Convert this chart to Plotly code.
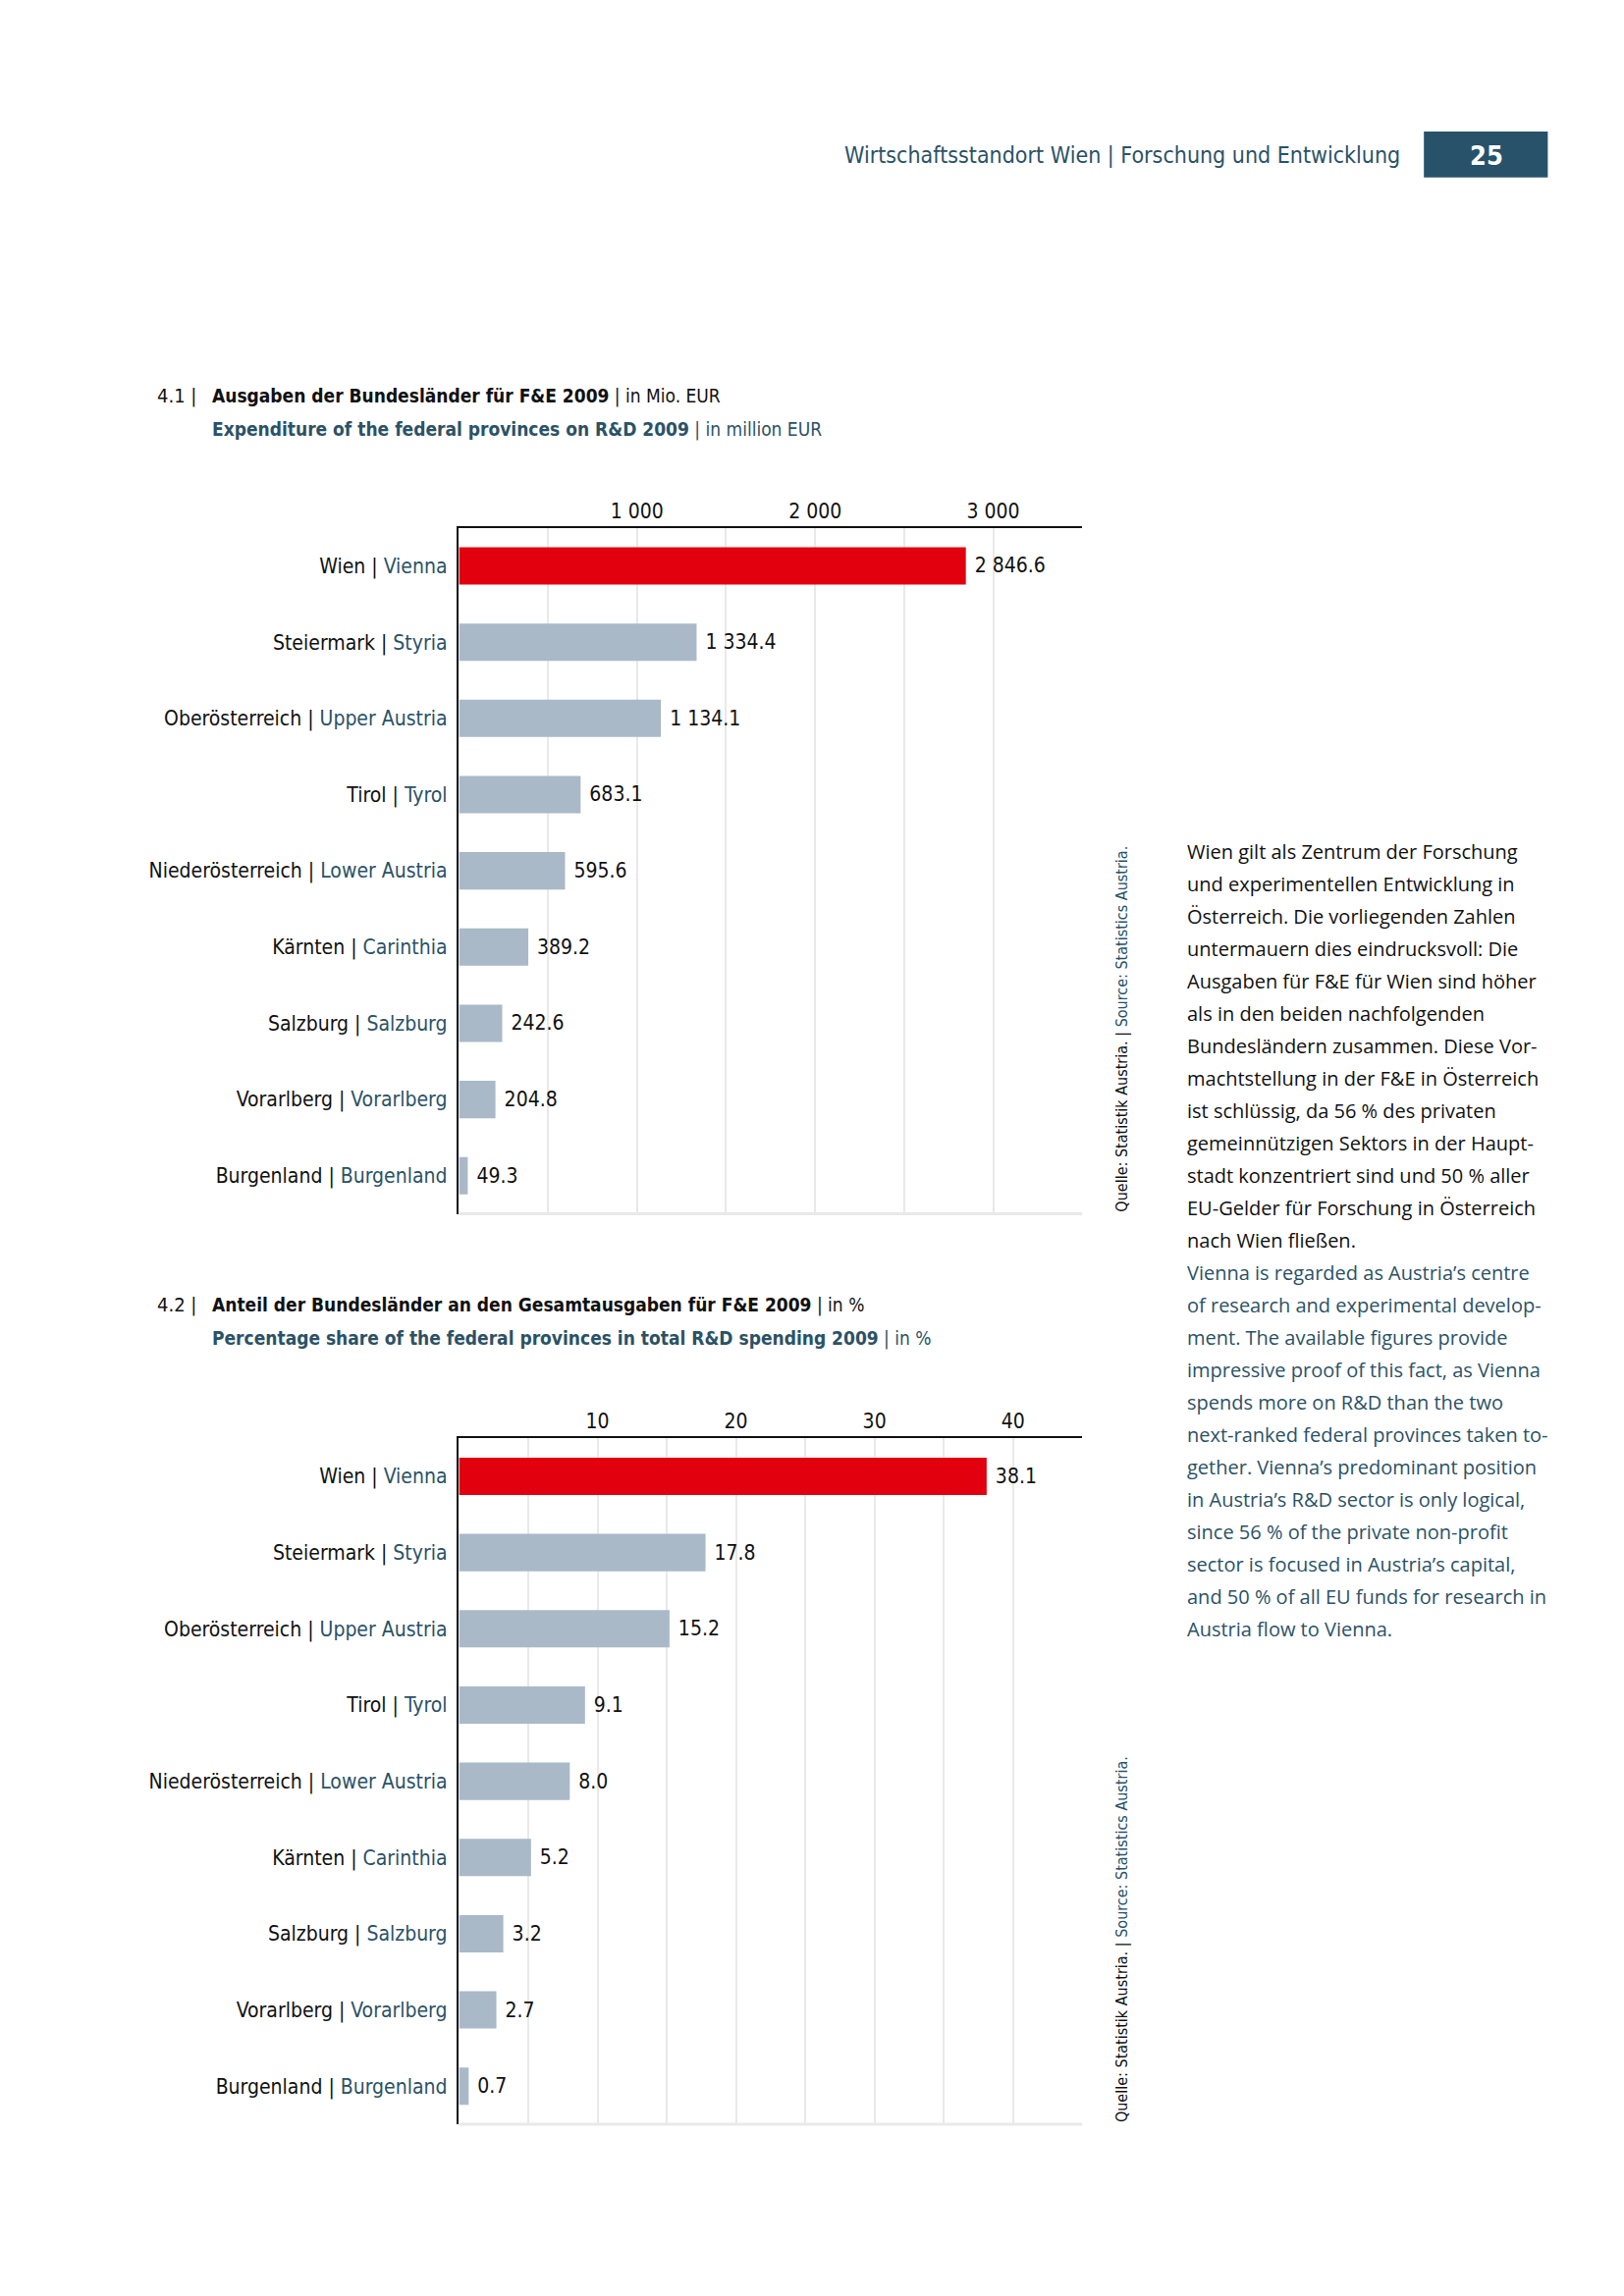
import plotly.graph_objects as go

W, H = 1654, 2339

# ---------------- data ----------------
regions_de = ["Wien", "Steiermark", "Oberösterreich", "Tirol", "Niederösterreich",
              "Kärnten", "Salzburg", "Vorarlberg", "Burgenland"]
regions_en = ["Vienna", "Styria", "Upper Austria", "Tyrol", "Lower Austria",
              "Carinthia", "Salzburg", "Vorarlberg", "Burgenland"]
spend_mio = [2846.6, 1334.4, 1134.1, 683.1, 595.6, 389.2, 242.6, 204.8, 49.3]
share_pct = [38.1, 17.8, 15.2, 9.1, 8.0, 5.2, 3.2, 2.7, 0.7]
grid1 = [0, 500, 1000, 1500, 2000, 2500, 3000, 3500]
grid1_text = ["", "", "1 000", "", "2 000", "", "3 000", ""]
grid2 = [0, 5, 10, 15, 20, 25, 30, 35, 40, 45]
grid2_text = ["", "", "10", "", "20", "", "30", "", "40", ""]

TEAL = "#2b5266"
RED = "#e2000f"
GREY = "#a9b9c8"
GRID = "#e9e9e9"
FONT_C = "Liberation Sans Narrow, DejaVu Sans Condensed, Roboto Condensed, Roboto, sans-serif"
FONT_B = "Open Sans, Noto Sans, sans-serif"

S = 1.4935  # reference display -> page pixel factor


def px(x):
    return x * S / W


def py(y):
    return 1 - y * S / H


cats = [f"{d} | <span style='color:{TEAL}'>{e}</span>" for d, e in zip(regions_de, regions_en)]
colors = [RED] + [GREY] * (len(regions_de) - 1)

lab1 = ["\u00a0" + f"{v:,.1f}".replace(",", " ") for v in spend_mio]
lab2 = ["\u00a0" + f"{v:.1f}" for v in share_pct]

fig = go.Figure()
fig.add_trace(go.Bar(x=spend_mio, y=cats, orientation="h", marker_color=colors,
                     marker_line_width=0, text=lab1, textposition="outside",
                     cliponaxis=False, textfont=dict(family=FONT_C, size=21, color="#111"),
                     xaxis="x", yaxis="y", hoverinfo="skip"))
fig.add_trace(go.Bar(x=share_pct, y=cats, orientation="h", marker_color=colors,
                     marker_line_width=0, text=lab2, textposition="outside",
                     cliponaxis=False, textfont=dict(family=FONT_C, size=21, color="#111"),
                     xaxis="x2", yaxis="y2", hoverinfo="skip"))

# plot areas in reference display units
L, R = 313, 738
T1, B1 = 360, 828
T2, B2 = 981, 1449

common_x = dict(side="top", showgrid=True, gridcolor=GRID, gridwidth=1.5,
                showline=True, linecolor="#111", linewidth=1.5, zeroline=False,
                ticks="", tickfont=dict(family=FONT_C, size=21, color="#111"),
                ticklabelstandoff=0, fixedrange=True)
common_y = dict(autorange="reversed", showline=True, linecolor="#111", linewidth=1.5,
                ticks="", ticklabelstandoff=6, fixedrange=True,
                tickfont=dict(family=FONT_C, size=21, color="#111"), showgrid=False)

fig.update_layout(
    width=W, height=H, margin=dict(l=0, r=0, t=0, b=0),
    paper_bgcolor="white", plot_bgcolor="white", showlegend=False,
    bargap=0.51,
    xaxis=dict(domain=[px(L), px(R)], range=[0, 3500],
               tickvals=grid1, ticktext=grid1_text, anchor="y", **common_x),
    yaxis=dict(domain=[py(B1), py(T1)], anchor="x", **common_y),
    xaxis2=dict(domain=[px(L), px(R)], range=[0, 45],
                tickvals=grid2, ticktext=grid2_text, anchor="y2", **common_x),
    yaxis2=dict(domain=[py(B2), py(T2)], anchor="x2", **common_y),
)

shapes = []
for yr, xr in (("y domain", "x domain"), ("y2 domain", "x2 domain")):
    shapes.append(dict(type="line", xref=xr, yref=yr, x0=0, x1=1, y0=0, y1=0,
                       line=dict(color=GRID, width=3)))
# page number box
shapes.append(dict(type="rect", xref="paper", yref="paper", x0=px(971), x1=px(1055.5),
                   y0=py(121), y1=py(89.7), fillcolor="#27526a", line_width=0))
fig.update_layout(shapes=shapes)

ann = []
# header
ann.append(dict(x=px(956), y=py(106), xref="paper", yref="paper", xanchor="right",
                yanchor="middle", showarrow=False,
                text="Wirtschaftsstandort Wien | Forschung und Entwicklung",
                font=dict(family=FONT_C, size=23, color=TEAL)))
ann.append(dict(x=px(1013.5), y=py(106), xref="paper", yref="paper", xanchor="center",
                yanchor="middle", showarrow=False, text="<b>25</b>",
                font=dict(family=FONT_C, size=27, color="white")))

# chart titles
for num, y1, t1, t2 in (
        ("4.1 |", 270, "<b>Ausgaben der Bundesländer für F&E 2009</b> | in Mio. EUR",
         "<b>Expenditure of the federal provinces on R&D 2009</b> | in million EUR"),
        ("4.2 |", 890, "<b>Anteil der Bundesländer an den Gesamtausgaben für F&E 2009</b> | in %",
         "<b>Percentage share of the federal provinces in total R&D spending 2009</b> | in %")):
    ann.append(dict(x=px(106), y=py(y1), xref="paper", yref="paper", xanchor="left",
                    yanchor="middle", showarrow=False, text=num,
                    font=dict(family=FONT_C, size=20, color="#111")))
    ann.append(dict(x=px(143), y=py(y1), xref="paper", yref="paper", xanchor="left",
                    yanchor="middle", showarrow=False, text=t1,
                    font=dict(family=FONT_C, size=19, color="#111")))
    ann.append(dict(x=px(143), y=py(y1 + 23), xref="paper", yref="paper", xanchor="left",
                    yanchor="middle", showarrow=False, text=t2,
                    font=dict(family=FONT_C, size=19, color=TEAL)))

# source notes (vertical)
src = f"Quelle: Statistik Austria. | <span style='color:{TEAL}'>Source: Statistics Austria.</span>"
for yb in (B1, B2):
    ann.append(dict(x=px(765), y=py(yb), xref="paper", yref="paper", xanchor="center",
                    yanchor="bottom", showarrow=False, textangle=-90, text=src,
                    font=dict(family=FONT_C, size=16, color="#111")))

# body text
de_lines = [
    "Wien gilt als Zentrum der Forschung",
    "und experimentellen Entwicklung in",
    "Österreich. Die vorliegenden Zahlen",
    "untermauern dies eindrucksvoll: Die",
    "Ausgaben für F&E für Wien sind höher",
    "als in den beiden nachfolgenden",
    "Bundesländern zusammen. Diese Vor-",
    "machtstellung in der F&E in Österreich",
    "ist schlüssig, da 56 % des privaten",
    "gemeinnützigen Sektors in der Haupt-",
    "stadt konzentriert sind und 50 % aller",
    "EU-Gelder für Forschung in Österreich",
    "nach Wien fließen.",
]
en_lines = [
    "Vienna is regarded as Austria’s centre",
    "of research and experimental develop-",
    "ment. The available figures provide",
    "impressive proof of this fact, as Vienna",
    "spends more on R&D than the two",
    "next-ranked federal provinces taken to-",
    "gether. Vienna’s predominant position",
    "in Austria’s R&D sector is only logical,",
    "since 56 % of the private non-profit",
    "sector is focused in Austria’s capital,",
    "and 50 % of all EU funds for research in",
    "Austria flow to Vienna.",
]
y0 = 581
step = 22.1
for i, line in enumerate(de_lines + en_lines):
    col = "#111" if i < len(de_lines) else TEAL
    ann.append(dict(x=px(808), y=py(y0 + i * step), xref="paper", yref="paper",
                    xanchor="left", yanchor="middle", showarrow=False, text=line,
                    font=dict(family=FONT_B, size=20, color=col)))

fig.update_layout(annotations=ann)
fig.write_html("out.html", config={"displayModeBar": False},
               post_script="document.body.style.margin='0';")
